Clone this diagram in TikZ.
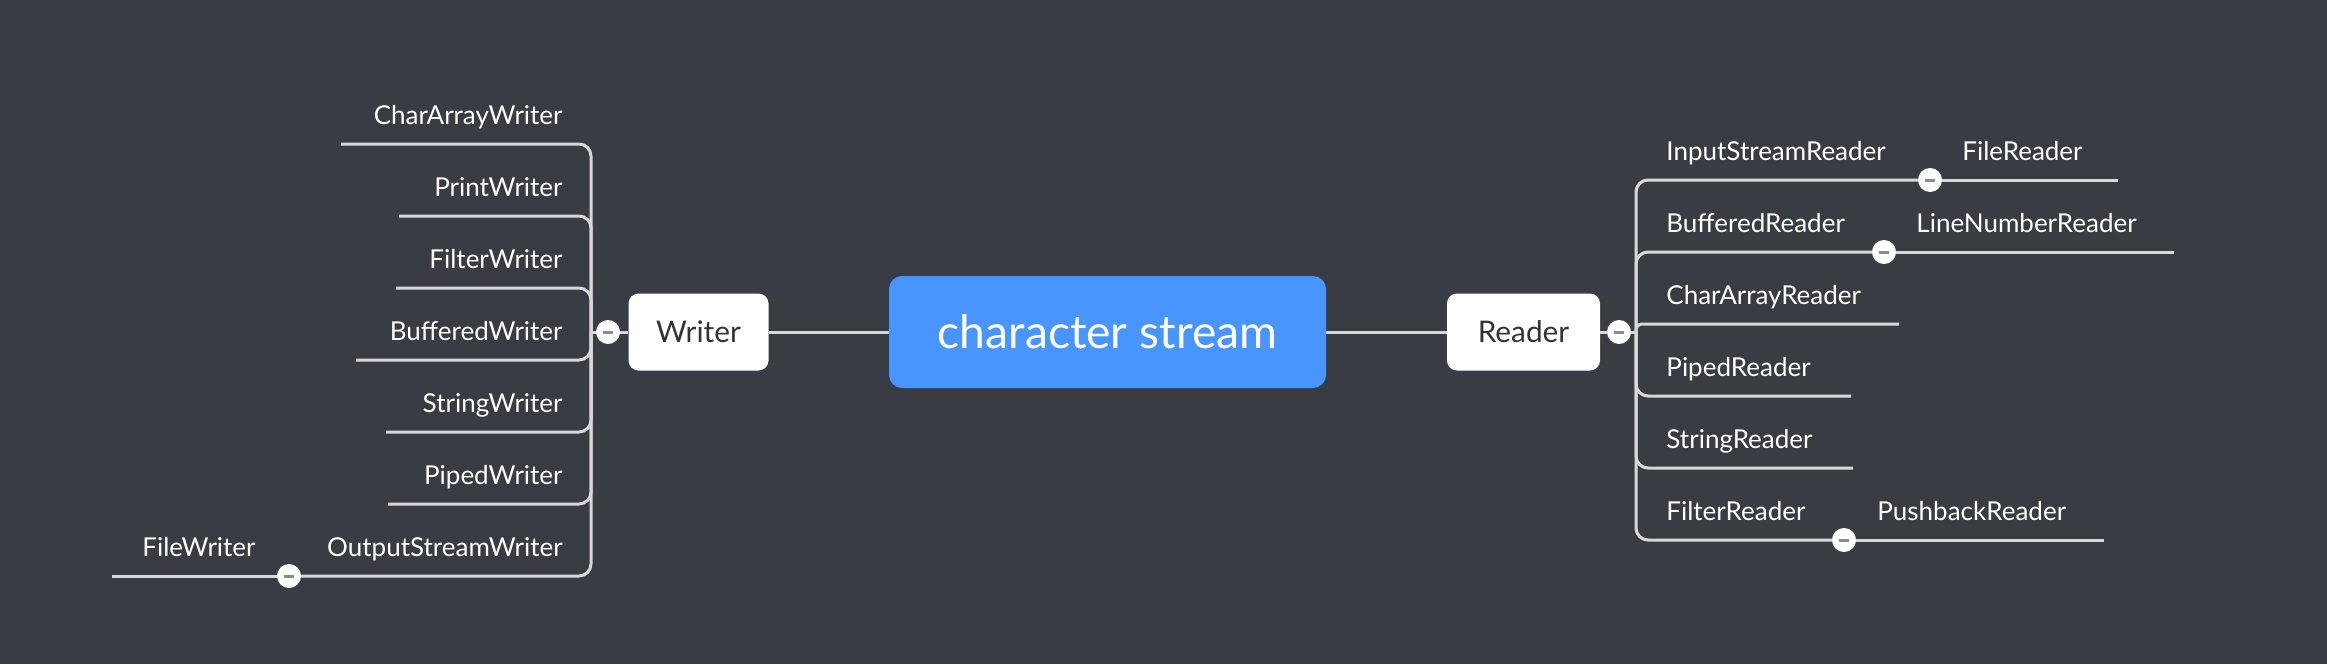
\documentclass[tikz,border=0pt]{standalone}
\usepackage{fontspec}
\setmainfont{Lato}
\definecolor{bgcol}{RGB}{57,60,66}
\definecolor{topicblue}{RGB}{72,149,255}
\definecolor{linegray}{RGB}{216,216,216}
\definecolor{darktext}{RGB}{51,51,51}
\definecolor{minusgray}{RGB}{140,140,140}
\pgfdeclarelayer{bglayer}
\pgfdeclarelayer{lines}
\pgfsetlayers{bglayer,lines,main}
\begin{document}
\begin{tikzpicture}[x=0.5pt,y=-0.5pt,
 branch/.style={draw=linegray, line width=1.5pt, rounded corners=6pt},
 leaf/.style={text=white, font=\fontsize{13.0}{16}\selectfont, inner sep=0pt},
 subtopic/.style={fill=white, rounded corners=5pt, minimum width=70pt, minimum height=38.5pt, text=darktext, font=\fontsize{14.9}{18}\selectfont, inner sep=0pt},
 central/.style={fill=topicblue, rounded corners=6.5pt, minimum width=218.5pt, minimum height=56pt, text=white, font=\fontsize{23.1}{28}\selectfont, inner sep=0pt},
 minusbtn/.style={circle, fill=white, minimum size=12pt, inner sep=0pt,
   path picture={\draw[minusgray, line width=1.5pt] ([xshift=-2.6pt]path picture bounding box.center) -- ([xshift=2.6pt]path picture bounding box.center);}}
]
\begin{pgfonlayer}{bglayer}
\fill[bgcol] (0,0) rectangle (2327,664);
\end{pgfonlayer}
\useasboundingbox (0,0) rectangle (2327,664);

% main topics
\node[central] (cs) at (1107.5,332) {character stream};
\node[subtopic] (writer) at (698.5,332) {Writer};
\node[subtopic, minimum width=76.5pt] (reader) at (1523.5,332) {Reader};

\begin{pgfonlayer}{lines}
\draw[branch] (cs.west) -- (writer.east);
\draw[branch] (cs.east) -- (reader.west);
\end{pgfonlayer}

% ---------- Writer side ----------
\coordinate (wt) at (591,332);
\begin{pgfonlayer}{lines}
\draw[branch] (writer.west) -- (wt);
\end{pgfonlayer}
\node[minusbtn] (wm) at (608,332) {};

\foreach \n/\t/\yy/\xx in {caw/CharArrayWriter/144/341, pw/PrintWriter/216/399,
  flw/FilterWriter/288/396, bw/BufferedWriter/360/356, sw/StringWriter/432/386,
  piw/PipedWriter/504/388}{
  \coordinate (\n-end) at (\xx,\yy);
  \node[leaf, anchor=base east] (\n) at (563,\yy-20) {\t};
  \begin{pgfonlayer}{lines}
  \draw[branch] (wt) |- (\n-end);
  \end{pgfonlayer}
}

\node[leaf, anchor=base east] (osw) at (563,556) {OutputStreamWriter};
\node[minusbtn] (oswm) at (289,576) {};
\coordinate (fw-end) at (112,576);
\node[leaf, anchor=base east] (fw) at (256,556) {FileWriter};
\begin{pgfonlayer}{lines}
\draw[branch] (wt) |- (oswm.center);
\draw[branch] (oswm.center) -- (fw-end);
\end{pgfonlayer}

% ---------- Reader side ----------
\coordinate (rt) at (1636,332);
\begin{pgfonlayer}{lines}
\draw[branch] (reader.east) -- (rt);
\end{pgfonlayer}
\node[minusbtn] (rm) at (1619,332) {};

\foreach \n/\t/\yy/\xx/\rc in {car/CharArrayReader/324/1899/3pt, pr/PipedReader/396/1851/6pt,
  sr/StringReader/468/1853/6pt}{
  \coordinate (\n-end) at (\xx,\yy);
  \node[leaf, anchor=base west] (\n) at (1666,\yy-20) {\t};
  \begin{pgfonlayer}{lines}
  \draw[branch, rounded corners=\rc] (rt) |- (\n-end);
  \end{pgfonlayer}
}

\foreach \n/\t/\yy/\mx/\c/\cx/\ex in {isr/InputStreamReader/180/1930/FileReader/1962/2118,
  br/BufferedReader/252/1884/LineNumberReader/1916/2174,
  fr/FilterReader/540/1844/PushbackReader/1877/2104}{
  \node[leaf, anchor=base west] (\n) at (1666,\yy-20) {\t};
  \node[minusbtn] (\n-m) at (\mx,\yy) {};
  \node[leaf, anchor=base west] (\n-c) at (\cx,\yy-20) {\c};
  \coordinate (\n-end) at (\ex,\yy);
  \begin{pgfonlayer}{lines}
  \draw[branch] (rt) |- (\n-m.center);
  \draw[branch] (\n-m.center) -- (\n-end);
  \end{pgfonlayer}
}
\end{tikzpicture}
\end{document}
